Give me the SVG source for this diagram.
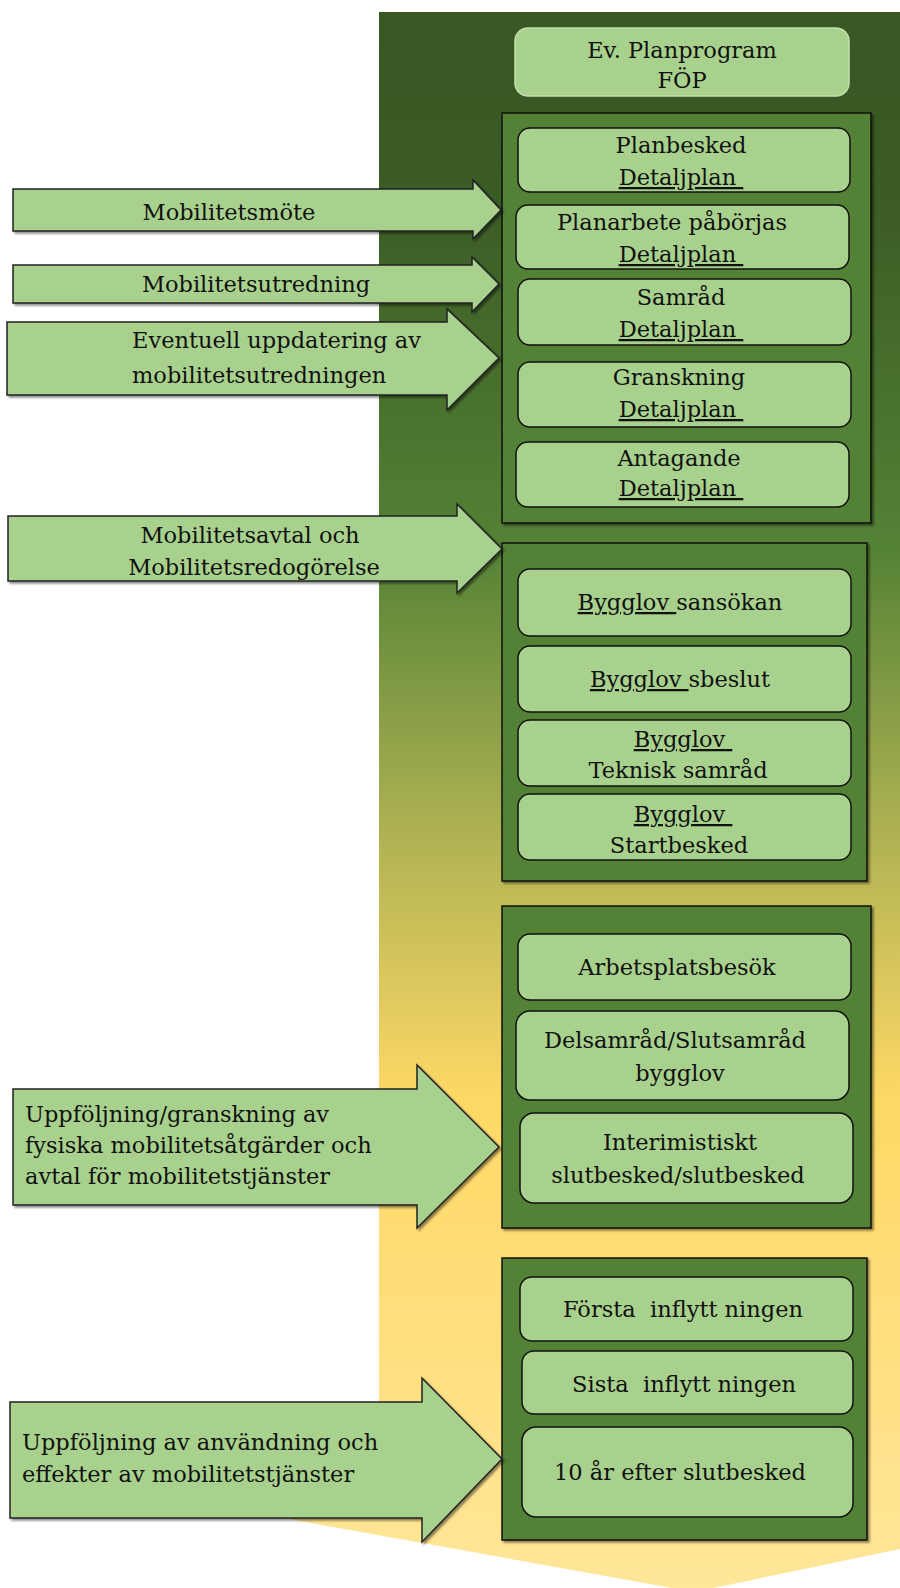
<svg xmlns="http://www.w3.org/2000/svg" width="900" height="1588" viewBox="0 0 900 1588">
<defs>
<linearGradient id="bg" x1="0" y1="12" x2="0" y2="1592" gradientUnits="userSpaceOnUse">
<stop offset="0" stop-color="#385723"/>
<stop offset="0.12" stop-color="#3B5C25"/>
<stop offset="0.34" stop-color="#548235"/>
<stop offset="0.50" stop-color="#A5AD50"/>
<stop offset="0.69" stop-color="#FFD966"/>
<stop offset="1" stop-color="#FFE699"/>
</linearGradient>
<filter id="sh" x="-5%" y="-5%" width="115%" height="115%">
<feDropShadow dx="2" dy="2" stdDeviation="1.2" flood-color="#000" flood-opacity="0.45"/>
</filter>
</defs>
<style>
.t{font-family:"DejaVu Serif","Liberation Serif",serif;font-size:22.5px;fill:#111;}
.c{text-anchor:middle;}
.u{text-decoration:underline;}
.cont{fill:#538135;stroke:#111;stroke-width:1.5;}
.box{fill:#A9D18E;stroke:#111;stroke-width:1.5;}
.arr{fill:#A9D18E;stroke:#222;stroke-width:1.5;stroke-linejoin:miter;}
</style>
<polygon points="379,12 900,12 900,1549 694,1592 250,1512 379,1512" fill="url(#bg)"/>

<g id="planprogram">
<rect x="515" y="28" width="334" height="68" rx="13" fill="#A9D18E" stroke="#C3DFAE" stroke-width="1.5"/>
<text class="t c" x="682" y="58">Ev. Planprogram</text>
<text class="t c" x="682" y="88">FÖP</text>
</g>

<g id="detaljplan-group">
<rect class="cont" x="502" y="113" width="369" height="410" filter="url(#sh)"/>
<g id="planbesked">
<rect class="box" x="518" y="128" width="332" height="64" rx="12"/>
<text class="t c" x="681" y="153">Planbesked</text>
<text class="t c u" x="681" y="185" xml:space="preserve">Detaljplan </text>
</g>
<g id="planarbete">
<rect class="box" x="516" y="205" width="333" height="64" rx="12"/>
<text class="t c" x="672" y="230">Planarbete påbörjas</text>
<text class="t c u" x="681" y="262" xml:space="preserve">Detaljplan </text>
</g>
<g id="samrad">
<rect class="box" x="518" y="279" width="333" height="66" rx="12"/>
<text class="t c" x="681" y="305">Samråd</text>
<text class="t c u" x="681" y="337" xml:space="preserve">Detaljplan </text>
</g>
<g id="granskning">
<rect class="box" x="518" y="362" width="333" height="65" rx="12"/>
<text class="t c" x="679" y="385">Granskning</text>
<text class="t c u" x="681" y="417" xml:space="preserve">Detaljplan </text>
</g>
<g id="antagande">
<rect class="box" x="516" y="442" width="333" height="65" rx="12"/>
<text class="t c" x="679" y="466">Antagande</text>
<text class="t c u" x="681" y="496" xml:space="preserve">Detaljplan </text>
</g>
</g>

<g id="bygglov-group">
<rect class="cont" x="502" y="543" width="365" height="338" filter="url(#sh)"/>
<g id="bygglovsansokan">
<rect class="box" x="518" y="569" width="333" height="67" rx="12"/>
<text class="t c" x="680" y="610" xml:space="preserve"><tspan class="u">Bygglov </tspan>sansökan</text>
</g>
<g id="bygglovsbeslut">
<rect class="box" x="518" y="646" width="333" height="66" rx="12"/>
<text class="t c" x="680" y="687" xml:space="preserve"><tspan class="u">Bygglov </tspan>sbeslut</text>
</g>
<g id="tekniskt-samrad">
<rect class="box" x="518" y="720" width="333" height="66" rx="12"/>
<text class="t c u" x="683" y="747" xml:space="preserve">Bygglov </text>
<text class="t c" x="678" y="778">Teknisk samråd</text>
</g>
<g id="startbesked">
<rect class="box" x="518" y="794" width="333" height="66" rx="12"/>
<text class="t c u" x="683" y="822" xml:space="preserve">Bygglov </text>
<text class="t c" x="679" y="853">Startbesked</text>
</g>
</g>

<g id="bygg-group">
<rect class="cont" x="502" y="906" width="369" height="322" filter="url(#sh)"/>
<g id="arbetsplatsbesok">
<rect class="box" x="518" y="934" width="333" height="66" rx="12"/>
<text class="t c" x="677" y="975">Arbetsplatsbesök</text>
</g>
<g id="delsamrad">
<rect class="box" x="516" y="1011" width="333" height="89" rx="14"/>
<text class="t c" x="675" y="1048">Delsamråd/Slutsamråd</text>
<text class="t c" x="680" y="1081">bygglov</text>
</g>
<g id="slutbesked">
<rect class="box" x="520" y="1113" width="333" height="90" rx="14"/>
<text class="t c" x="680" y="1150">Interimistiskt</text>
<text class="t c" x="678" y="1183">slutbesked/slutbesked</text>
</g>
</g>

<g id="inflytt-group">
<rect class="cont" x="502" y="1258" width="365" height="282" filter="url(#sh)"/>
<g id="forsta">
<rect class="box" x="520" y="1277" width="333" height="64" rx="12"/>
<text class="t c" x="683" y="1317" xml:space="preserve">Första  inflytt ningen</text>
</g>
<g id="sista">
<rect class="box" x="522" y="1351" width="331" height="63" rx="12"/>
<text class="t c" x="684" y="1392" xml:space="preserve">Sista  inflytt ningen</text>
</g>
<g id="tio-ar">
<rect class="box" x="522" y="1427" width="331" height="90" rx="14"/>
<text class="t c" x="680" y="1480">10 år efter slutbesked</text>
</g>
</g>

<g id="connectors">
<g id="arrow-mobilitetsmote">
<polygon class="arr" filter="url(#sh)" points="13,189 473,189 473,180 501,210 473,239 473,231 13,231"/>
<text class="t c" x="229" y="220">Mobilitetsmöte</text>
</g>
<g id="arrow-mobilitetsutredning">
<polygon class="arr" filter="url(#sh)" points="13,265 472,265 472,257 499,284 472,312 472,303 13,303"/>
<text class="t c" x="256" y="292">Mobilitetsutredning</text>
</g>
<g id="arrow-uppdatering">
<polygon class="arr" filter="url(#sh)" points="7,322 447,322 447,309 499,358 447,410 447,395 7,395"/>
<text class="t" x="132" y="348">Eventuell uppdatering av</text>
<text class="t" x="132" y="383">mobilitetsutredningen</text>
</g>
<g id="arrow-avtal">
<polygon class="arr" filter="url(#sh)" points="8,516 457,516 457,504 502,549 457,593 457,581 8,581"/>
<text class="t c" x="250" y="543">Mobilitetsavtal och</text>
<text class="t c" x="254" y="575">Mobilitetsredogörelse</text>
</g>
<g id="arrow-granskning">
<polygon class="arr" filter="url(#sh)" points="13,1089 417,1089 417,1065 499,1147 417,1228 417,1205 13,1205"/>
<text class="t" x="25" y="1122">Uppföljning/granskning av</text>
<text class="t" x="25" y="1153">fysiska mobilitetsåtgärder och</text>
<text class="t" x="25" y="1184">avtal för mobilitetstjänster</text>
</g>
<g id="arrow-uppfoljning">
<polygon class="arr" filter="url(#sh)" points="10,1402 422,1402 422,1378 502,1459 422,1542 422,1518 10,1518"/>
<text class="t" x="22" y="1450">Uppföljning av användning och</text>
<text class="t" x="22" y="1482">effekter av mobilitetstjänster</text>
</g>
</g>
</svg>
